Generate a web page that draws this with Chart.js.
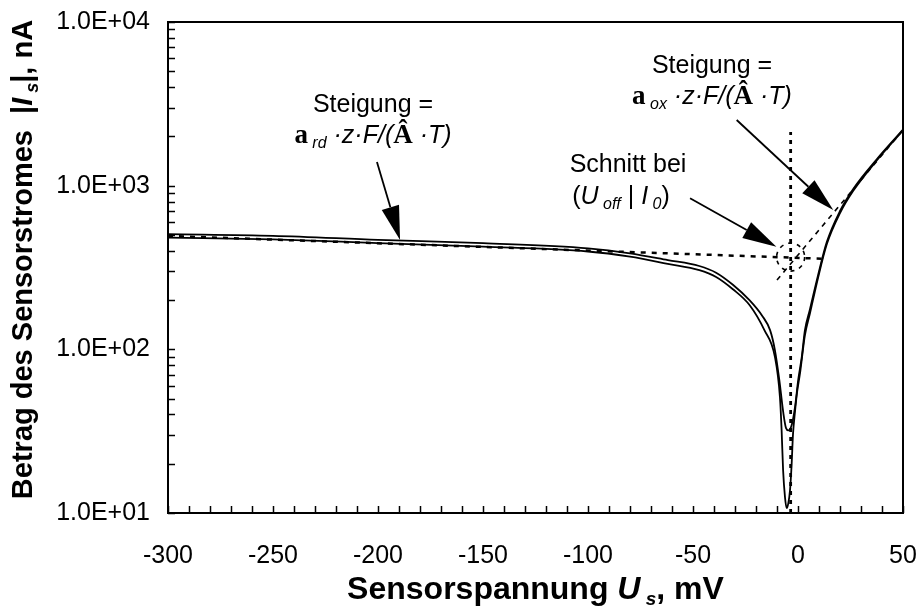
<!DOCTYPE html>
<html lang="de">
<head>
<meta charset="UTF-8" />
<title>Strom-Spannungs-Kennlinie</title>
<script src="https://cdn.jsdelivr.net/npm/chart.js"></script>
<style>
  body { margin: 0; background: #fff; }
  #wrap { width: 917px; height: 606px; }
</style>
</head>
<body>
<div id="wrap"><canvas id="kennlinie"></canvas></div>
<script>
// Messkurve 1 (tiefes Minimum), Spannung in mV, Strombetrag in nA
const uHin = [-300, -250, -200, -150, -100, -80, -62, -47, -39, -31, -23, -16, -11, -8.6, -7.8, -7.1, -6.2, -5.4, -4.6, -3.8, -3.0, -2.4, -1.4, -0.5, 1.0, 3.3, 5.7, 9.5, 13.7, 20, 26.3, 37.5, 50];
const iHin = [482, 470, 446, 424, 396, 368, 333, 305, 277, 233, 186, 131, 90, 51, 32, 18.3, 12.5, 10.7, 11.5, 13.8, 20.2, 30, 42, 54, 72, 122, 166, 272, 438, 680, 930, 1425, 2180];

// Messkurve 2 (flaches Minimum)
const uRueck = [-300, -250, -200, -150, -100, -80, -62, -47, -39, -31, -23, -17, -13.3, -11, -8.9, -7, -5.7, -4.6, -3.0, -1.4, 0.1, 1.8, 3.3, 5.7, 9.5, 13.7, 20, 26.3, 37.5, 50];
const iRueck = [506, 494, 467, 445, 414, 386, 351, 323, 294, 248, 199, 160, 131, 99, 65, 41, 33, 32, 34.5, 44.5, 65, 90, 131, 176, 282, 452, 700, 955, 1450, 2200];

// Tafel-Geraden (Endpunkte)
const tafelRdU = [-300, 13.8];
const tafelRdI = [493, 357];
const tafelOxU = [-10, 50];
const tafelOxI = [265, 2188];

// Schnittpunkt und senkrechte Hilfslinie
const uOff = -3.5;
const i0 = 366;
const lotI = [10, 2130];

// Achsenteilung
const xTicks = [-300, -250, -200, -150, -100, -50, 0, 50];
const yTicks = [10, 100, 1000, 10000];

const SANS = '"Liberation Sans", Arial, sans-serif';
const SERIF = '"Liberation Serif", "Times New Roman", serif';

// Pfeile in Datenkoordinaten: [mV, nA]
const pfeile = [
  { von: [-200.5, 1396], nach: [-189.5, 466] },
  { von: [-29.2, 2520], nach: [16.8, 711] },
  { von: [-51.4, 837], nach: [-10.3, 424] }
];

function punkte(us, is) {
  return us.map((u, k) => ({ x: u, y: is[k] }));
}

function exp10(v) {
  const e = Math.round(Math.log10(v));
  return '1.0E+' + String(e).padStart(2, '0');
}

// Text aus mehreren Teilen (Schriftwechsel, Indizes) zentriert zeichnen
function zeile(ctx, teile, cx, y) {
  let breite = 0;
  teile.forEach(t => { ctx.font = t.f; breite += ctx.measureText(t.t).width; });
  let x = cx - breite / 2;
  ctx.textAlign = 'left';
  ctx.textBaseline = 'alphabetic';
  teile.forEach(t => {
    ctx.font = t.f;
    ctx.fillText(t.t, x, y + (t.dy || 0));
    x += ctx.measureText(t.t).width;
  });
}

function pfeil(ctx, x1, y1, x2, y2) {
  const len = 34, halb = 9;
  const dx = x2 - x1, dy = y2 - y1;
  const d = Math.hypot(dx, dy);
  const ux = dx / d, uy = dy / d;
  const bx = x2 - ux * len, by = y2 - uy * len;
  ctx.setLineDash([]);
  ctx.lineWidth = 1.8;
  ctx.beginPath();
  ctx.moveTo(x1, y1);
  ctx.lineTo(bx, by);
  ctx.stroke();
  ctx.beginPath();
  ctx.moveTo(x2, y2);
  ctx.lineTo(bx - uy * halb, by + ux * halb);
  ctx.lineTo(bx + uy * halb, by - ux * halb);
  ctx.closePath();
  ctx.fill();
}

// Rahmen und nach innen zeigende Teilstriche
const rahmen = {
  id: 'rahmen',
  afterDatasetsDraw(chart) {
    const { ctx, chartArea: a, scales: { x, y } } = chart;
    ctx.save();
    ctx.strokeStyle = '#000';
    ctx.lineWidth = 2;
    ctx.setLineDash([]);
    ctx.strokeRect(a.left, a.top, a.right - a.left, a.bottom - a.top);
    ctx.lineWidth = 1.5;
    ctx.beginPath();
    for (let u = -300; u <= 50; u += 10) {
      const px = Math.round(x.getPixelForValue(u)) + 0.5;
      ctx.moveTo(px, a.bottom);
      ctx.lineTo(px, a.bottom - 7);
    }
    for (let dek = 10; dek < 10000; dek *= 10) {
      for (let k = 1; k <= 10; k++) {
        const py = Math.round(y.getPixelForValue(dek * k)) + 0.5;
        ctx.moveTo(a.left, py);
        ctx.lineTo(a.left + 7, py);
      }
    }
    ctx.stroke();
    ctx.restore();
  }
};

// Achsentitel, Beschriftungen, Pfeile und Schnittmarkierung
const beschriftung = {
  id: 'beschriftung',
  afterDraw(chart) {
    const { ctx, chartArea: a, scales: { x, y } } = chart;
    ctx.save();
    ctx.fillStyle = '#000';
    ctx.strokeStyle = '#000';

    // Schnittpunkt markieren
    ctx.lineWidth = 1.6;
    ctx.setLineDash([4, 5]);
    ctx.beginPath();
    ctx.arc(x.getPixelForValue(uOff), y.getPixelForValue(i0), 14, 0, Math.PI * 2);
    ctx.stroke();

    pfeile.forEach(p => {
      pfeil(ctx,
        x.getPixelForValue(p.von[0]), y.getPixelForValue(p.von[1]),
        x.getPixelForValue(p.nach[0]), y.getPixelForValue(p.nach[1]));
    });

    const reg = `25px ${SANS}`;
    const kur = `italic 25px ${SANS}`;
    const idx = `italic 16px ${SANS}`;
    const alpha = `bold 27px ${SERIF}`;

    zeile(ctx, [{ t: 'Steigung =', f: reg }], 373, 112);
    zeile(ctx, [
      { t: 'a', f: alpha }, { t: ' rd', f: idx, dy: 5 }, { t: ' ·z·F/(', f: kur },
      { t: 'Â', f: alpha }, { t: ' ·T)', f: kur }
    ], 373, 143);

    zeile(ctx, [{ t: 'Steigung =', f: reg }], 712, 73);
    zeile(ctx, [
      { t: 'a', f: alpha }, { t: ' ox', f: idx, dy: 5 }, { t: ' ·z·F/(', f: kur },
      { t: 'Â', f: alpha }, { t: ' ·T)', f: kur }
    ], 712, 104);

    zeile(ctx, [{ t: 'Schnitt bei', f: reg }], 628, 172);
    zeile(ctx, [
      { t: '(', f: reg }, { t: 'U', f: kur }, { t: ' off', f: idx, dy: 5 },
      { t: ' | ', f: reg }, { t: 'I', f: kur }, { t: ' 0', f: idx, dy: 5 }, { t: ')', f: reg }
    ], 621, 204);

    // Achsentitel
    zeile(ctx, [
      { t: 'Sensorspannung ', f: `bold 32px ${SANS}` }, { t: 'U', f: `bold italic 32px ${SANS}` },
      { t: ' s', f: `bold italic 19px ${SANS}`, dy: 6 }, { t: ', mV', f: `bold 32px ${SANS}` }
    ], (a.left + a.right) / 2, 599);

    ctx.translate(32, (a.top + a.bottom) / 2 - 8);
    ctx.rotate(-Math.PI / 2);
    zeile(ctx, [
      { t: 'Betrag des Sensorstromes  |', f: `bold 29px ${SANS}` }, { t: 'I', f: `bold italic 29px ${SANS}` },
      { t: ' s', f: `bold italic 18px ${SANS}`, dy: 6 }, { t: '|, nA', f: `bold 29px ${SANS}` }
    ], 0, 0);
    ctx.restore();
  }
};

const linie = (daten, breite, strich) => ({
  data: daten,
  showLine: true,
  borderColor: '#000',
  borderWidth: breite,
  borderDash: strich,
  pointRadius: 0,
  fill: false
});

const kurveHin = Object.assign(linie(punkte(uHin, iHin), 1.8, []), { cubicInterpolationMode: 'monotone' });
const kurveRueck = Object.assign(linie(punkte(uRueck, iRueck), 1.8, []), { cubicInterpolationMode: 'monotone' });

new Chart(document.getElementById('kennlinie'), {
  type: 'scatter',
  data: {
    datasets: [
      kurveHin,
      kurveRueck,
      linie(punkte(tafelRdU, tafelRdI), 2.5, [5, 6]),
      linie(punkte(tafelOxU, tafelOxI), 1.6, [5, 5]),
      linie(punkte([uOff, uOff], lotI), 2.8, [4, 5])
    ]
  },
  options: {
    responsive: true,
    maintainAspectRatio: false,
    animation: false,
    layout: { padding: { top: 22, right: 14, left: 0, bottom: 0 } },
    plugins: { legend: { display: false }, tooltip: { enabled: false } },
    scales: {
      x: {
        type: 'linear',
        min: -300,
        max: 50,
        afterBuildTicks: s => { s.ticks = xTicks.map(v => ({ value: v })); },
        afterFit: s => { s.height = 93; s.paddingLeft = 0; s.paddingRight = 0; },
        grid: { display: false, drawTicks: false },
        border: { display: false },
        ticks: { color: '#000', padding: 28, maxRotation: 0, font: { family: SANS, size: 25 } }
      },
      y: {
        type: 'logarithmic',
        min: 10,
        max: 10000,
        afterBuildTicks: s => { s.ticks = yTicks.map(v => ({ value: v })); },
        afterFit: s => { s.width = 168; s.paddingTop = 0; s.paddingBottom = 0; },
        grid: { display: false, drawTicks: false },
        border: { display: false },
        ticks: { color: '#000', padding: 18, callback: v => exp10(v), font: { family: SANS, size: 25 } }
      }
    }
  },
  plugins: [rahmen, beschriftung]
});
</script>
</body>
</html>
